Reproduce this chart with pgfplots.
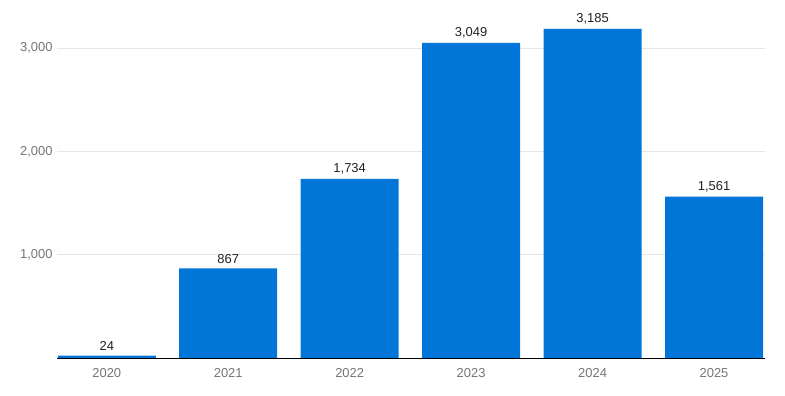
\documentclass[border=0pt]{standalone}
\usepackage{pgfplots}
\pgfplotsset{compat=1.18}
\usepackage{fontspec}
\setmainfont{Liberation Sans}
\definecolor{barblue}{HTML}{0276D8}
\definecolor{ticktxt}{HTML}{757575}
\definecolor{gridc}{HTML}{E6E6E6}
\definecolor{lbl}{HTML}{222222}
\begin{document}
\begin{tikzpicture}[x=1bp,y=1bp]
\path (0,0) rectangle (785,395);
\begin{axis}[
  at={(57bp,37bp)}, anchor=south west,
  scale only axis, width=708bp, height=351.3bp,
  xmin=-0.41, xmax=5.42, ymin=0, ymax=3400,
  xtick={0,1,2,3,4,5},
  xticklabels={2020,2021,2022,2023,2024,2025},
  ytick={1000,2000,3000},
  ymajorgrids, grid style={gridc, line width=0.8bp},
  axis line style={draw=none},
  major tick style={draw=none},
  /pgf/number format/assume math mode=true,
  /pgf/number format/1000 sep={,},
  tick label style={font=\fontsize{13}{15}\selectfont, text=ticktxt},
  yticklabel style={xshift=-1bp},
  xticklabel style={yshift=-3bp},
  ybar, bar width=98bp,
  nodes near coords,
  every node near coord/.append style={font=\fontsize{13}{15}\selectfont, text=lbl, yshift=1.5bp},
  clip=false,
]
\addplot[fill=barblue, draw=none] coordinates {(0,24) (1,867) (2,1734) (3,3049) (4,3185) (5,1561)};
\draw[black, line width=1bp] (axis cs:-0.41,0) -- (axis cs:5.42,0);
\end{axis}
\end{tikzpicture}
\end{document}
